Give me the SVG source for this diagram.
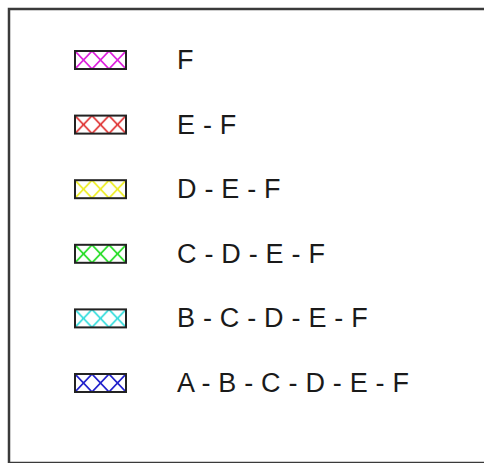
<svg xmlns="http://www.w3.org/2000/svg" width="484" height="463" viewBox="0 0 484 463">
<style>
.frame{fill:#fff;stroke:#3a3a3a;stroke-width:2.5}
.sw{stroke:#222;stroke-width:2}
.lbl{font-family:"Liberation Sans",Arial,sans-serif;font-size:27px;letter-spacing:0.2px;fill:#1a1a1a}
.h{stroke-width:1.7;fill:none}
</style>
<defs>
<pattern id="pF" patternUnits="userSpaceOnUse" x="75" y="51" width="17" height="18"><rect width="17" height="18" fill="#fff"/><path class="h" stroke="#dd22dd" d="M0,0L17,18M17,0L0,18"/></pattern>
<pattern id="pE" patternUnits="userSpaceOnUse" x="75" y="115.6" width="17" height="18"><rect width="17" height="18" fill="#fff"/><path class="h" stroke="#e03333" d="M0,0L17,18M17,0L0,18"/></pattern>
<pattern id="pD" patternUnits="userSpaceOnUse" x="75" y="180.2" width="17" height="18"><rect width="17" height="18" fill="#fff"/><path class="h" stroke="#eeee22" d="M0,0L17,18M17,0L0,18"/></pattern>
<pattern id="pC" patternUnits="userSpaceOnUse" x="75" y="244.8" width="17" height="18"><rect width="17" height="18" fill="#fff"/><path class="h" stroke="#22dd22" d="M0,0L17,18M17,0L0,18"/></pattern>
<pattern id="pB" patternUnits="userSpaceOnUse" x="75" y="309.4" width="17" height="18"><rect width="17" height="18" fill="#fff"/><path class="h" stroke="#33dddd" d="M0,0L17,18M17,0L0,18"/></pattern>
<pattern id="pA" patternUnits="userSpaceOnUse" x="75" y="374" width="17" height="18"><rect width="17" height="18" fill="#fff"/><path class="h" stroke="#2222cc" d="M0,0L17,18M17,0L0,18"/></pattern>
</defs>
<rect class="frame" x="9" y="9" width="490" height="454"/>
<g id="item-F"><rect class="sw" x="75" y="51" width="51" height="18" fill="url(#pF)"/><text class="lbl" x="177" y="69">F</text></g>
<g id="item-EF"><rect class="sw" x="75" y="115.6" width="51" height="18" fill="url(#pE)"/><text class="lbl" x="177" y="133.6">E - F</text></g>
<g id="item-DEF"><rect class="sw" x="75" y="180.2" width="51" height="18" fill="url(#pD)"/><text class="lbl" x="177" y="198.2">D - E - F</text></g>
<g id="item-CDEF"><rect class="sw" x="75" y="244.8" width="51" height="18" fill="url(#pC)"/><text class="lbl" x="177" y="262.8">C - D - E - F</text></g>
<g id="item-BCDEF"><rect class="sw" x="75" y="309.4" width="51" height="18" fill="url(#pB)"/><text class="lbl" x="177" y="327.4">B - C - D - E - F</text></g>
<g id="item-ABCDEF"><rect class="sw" x="75" y="374" width="51" height="18" fill="url(#pA)"/><text class="lbl" x="177" y="392">A - B - C - D - E - F</text></g>
</svg>
